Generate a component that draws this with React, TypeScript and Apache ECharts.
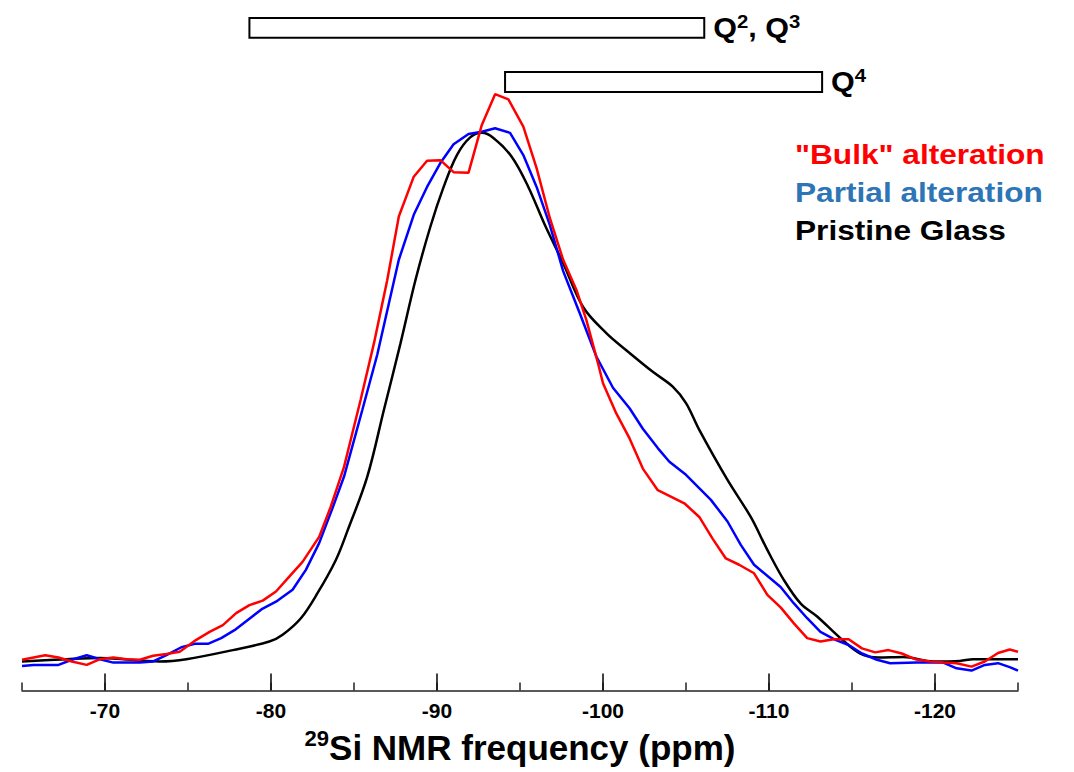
import React, { useEffect, useRef } from "react";
import * as echarts from "echarts";

// ---- data (ppm, relative intensity) ----
const bulkAlteration: [number, number][] = [
  [-65.0, 0.4], [-66.4, 1.2], [-67.2, 0.8], [-68.0, 0.1], [-68.9, -0.5], [-69.7, 0.5], [-70.5, 0.8],
  [-71.3, 0.5], [-72.1, 0.4], [-72.9, 1.1], [-73.7, 1.4], [-74.5, 1.8], [-75.5, 3.9], [-76.3, 5.3],
  [-77.1, 6.5], [-77.9, 8.6], [-78.7, 10.0], [-79.5, 10.8], [-80.3, 12.4], [-81.1, 15.0], [-81.9, 17.6],
  [-82.9, 22.0], [-83.6, 27.3], [-84.4, 34.3], [-85.4, 46.1], [-86.2, 56.0], [-87.0, 67.1], [-87.7, 78.3],
  [-88.6, 85.3], [-89.4, 88.1], [-90.2, 88.2], [-91.0, 86.1], [-91.9, 86.0], [-92.7, 94.4], [-93.5, 99.8],
  [-94.3, 98.9], [-95.2, 94.1], [-96.0, 86.8], [-96.8, 78.0], [-97.6, 70.7], [-98.4, 65.4], [-99.0, 60.1],
  [-99.7, 52.5], [-100.0, 49.0], [-100.8, 43.7], [-101.6, 39.3], [-102.4, 34.0], [-103.3, 30.2],
  [-104.9, 27.9], [-105.8, 25.5], [-106.6, 21.7], [-107.4, 18.2], [-108.2, 17.1], [-109.1, 15.6],
  [-109.9, 11.8], [-110.7, 9.6], [-111.5, 6.8], [-112.3, 4.2], [-113.1, 3.6], [-113.9, 4.0], [-114.8, 4.0],
  [-115.6, 2.4], [-116.4, 1.7], [-117.2, 2.1], [-118.0, 1.5], [-118.8, 0.5], [-119.7, 0.1], [-120.5, -0.1],
  [-121.3, -0.2], [-122.2, -0.8], [-123.0, 0.1], [-123.8, 1.6], [-124.5, 2.2], [-125.0, 1.8],
];

const partialAlteration: [number, number][] = [
  [-65.0, -0.7], [-65.7, -0.5], [-67.2, -0.5], [-68.0, 0.4], [-68.9, 1.2], [-69.7, 0.5], [-70.5, -0.1],
  [-72.1, -0.1], [-72.9, 0.1], [-73.7, 1.2], [-74.6, 2.6], [-75.4, 3.2], [-76.2, 3.2], [-77.0, 4.2],
  [-77.8, 5.6], [-78.6, 7.4], [-79.5, 9.4], [-80.3, 10.6], [-81.3, 12.7], [-82.1, 16.2], [-82.9, 20.9],
  [-83.7, 27.0], [-84.4, 32.6], [-85.5, 44.3], [-86.4, 54.0], [-87.1, 63.0], [-87.7, 70.7], [-88.6, 78.6],
  [-89.4, 83.5], [-90.2, 87.7], [-91.0, 91.0], [-91.9, 92.8], [-92.7, 93.2], [-93.5, 93.8], [-94.4, 93.0],
  [-95.2, 89.1], [-96.0, 83.5], [-96.8, 76.8], [-97.6, 68.7], [-98.6, 61.3], [-99.6, 53.7], [-100.6, 48.2],
  [-101.6, 44.6], [-102.4, 41.0], [-103.3, 37.6], [-104.0, 35.2], [-105.0, 32.9], [-106.5, 28.5],
  [-107.5, 24.7], [-108.3, 20.6], [-109.1, 17.1], [-110.7, 13.2], [-111.5, 10.3], [-112.3, 7.7],
  [-113.1, 5.3], [-114.0, 3.9], [-114.8, 3.0], [-115.6, 1.5], [-116.5, 0.4], [-117.3, -0.2], [-118.9, -0.1],
  [-120.5, -0.1], [-121.3, -1.1], [-122.2, -1.5], [-123.0, -0.5], [-123.8, -0.2], [-124.5, -0.9], [-125.0, -1.5],
];

const pristineGlass: [number, number][] = [
  [-65.0, 0.1], [-67.7, 0.5], [-69.7, 0.7], [-73.3, 0.1], [-74.9, 0.5], [-77.7, 2.1], [-79.9, 3.6],
  [-80.7, 4.8], [-81.8, 7.7], [-82.8, 12.1], [-83.9, 17.9], [-84.6, 23.0], [-85.8, 32.6], [-86.8, 44.3],
  [-87.8, 56.0], [-88.7, 67.1], [-89.6, 76.5], [-90.4, 83.5], [-91.2, 89.1], [-92.0, 92.2], [-92.7, 93.0],
  [-93.4, 92.1], [-94.5, 88.8], [-95.5, 83.5], [-96.5, 76.8], [-97.6, 70.1], [-98.8, 62.4], [-100.2, 57.8],
  [-101.4, 54.8], [-103.0, 51.0], [-104.2, 48.4], [-105.0, 45.5], [-105.8, 40.8], [-107.5, 32.0],
  [-108.9, 25.5], [-109.9, 19.7], [-110.9, 14.4], [-111.9, 10.3], [-112.9, 8.0], [-114.3, 4.2],
  [-115.5, 1.5], [-116.6, 0.8], [-118.1, 0.9], [-119.9, 0.1], [-121.5, 0.2], [-122.3, 0.5], [-125.0, 0.5],
];

// Q-species ranges (ppm) drawn as boxes above the spectra
const bandLabels = ["{q|Q}{s|2}{q|, Q}{s|3}", "{q|Q}{s|4}"];
const bandStart = [-78.7, -94.1];
const bandEnd = [-106.1, -113.2];
const bandUpper = [113.2, 103.7];
const bandLower = [109.7, 100.2];

// labelled (major) ticks; minor ticks every 5 ppm come from the axis interval
const majorTicks = [-120, -110, -100, -90, -80, -70];
const legendNames = ['"Bulk" alteration', "Partial alteration", "Pristine Glass"];
const legendColors = ["#ff0000", "#2e75b6", "#000000"];

const FONT = "'Liberation Sans', Arial, Helvetica, sans-serif";
const Y_MIN = -5;
const Y_MAX = 116;

export default function App() {
  const ref = useRef<HTMLDivElement>(null);

  useEffect(() => {
    if (!ref.current) return;
    const chart = echarts.init(ref.current, null, { renderer: "svg" });

    const axisColor = "#222";
    const option: any = {
      animation: false,
      backgroundColor: "#fff",
      grid: {
        left: 22,
        right: 56,
        top: 2,
        bottom: 81.5,
        containLabel: false,
        outerBoundsMode: "none",
      },
      xAxis: {
        type: "value",
        min: -125,
        max: -65,
        interval: 5,
        inverse: true,
        position: "bottom",
        axisLine: { show: true, onZero: false, lineStyle: { color: axisColor, width: 1.5 } },
        axisTick: { show: true, inside: true, length: 8, lineStyle: { color: axisColor, width: 1.5 } },
        axisLabel: {
          show: true,
          customValues: majorTicks,
          margin: 9,
          fontSize: 21,
          fontWeight: "bold",
          fontFamily: FONT,
          color: "#000",
          formatter: (v: number) => (v % 10 === 0 ? String(v) : ""),
        },
        splitLine: { show: false },
        name: "{sup|29}{main|Si NMR frequency (ppm)}",
        nameLocation: "middle",
        nameGap: 37,
        nameTextStyle: {
          rich: {
            sup: { fontSize: 22, fontWeight: "bold", fontFamily: FONT, color: "#000", verticalAlign: "top", lineHeight: 22 },
            main: { fontSize: 35, fontWeight: "bold", fontFamily: FONT, color: "#000", lineHeight: 40 },
          },
        },
      },
      yAxis: {
        type: "value",
        min: Y_MIN,
        max: Y_MAX,
        show: false,
        splitLine: { show: false },
      },
      series: [
        {
          type: "custom",
          name: "major ticks",
          coordinateSystem: "cartesian2d",
          clip: false,
          silent: true,
          z: 10,
          encode: { x: 0, y: 1 },
          data: majorTicks.map((v) => [v, Y_MIN]),
          renderItem: (params: any, api: any) => {
            const p = api.coord([api.value(0), api.value(1)]);
            return {
              type: "line",
              z2: 10,
              shape: { x1: p[0], y1: p[1], x2: p[0], y2: p[1] - 17 },
              style: { stroke: "#111", lineWidth: 1.6, fill: null },
            };
          },
        },
        {
          type: "custom",
          name: "Q ranges",
          coordinateSystem: "cartesian2d",
          clip: false,
          silent: true,
          z: 5,
          data: bandStart.map((s, i) => [s, bandEnd[i], bandUpper[i], bandLower[i]]),
          renderItem: (params: any, api: any) => {
            const i = params.dataIndex;
            const a = api.coord([api.value(0), api.value(2)]);
            const b = api.coord([api.value(1), api.value(3)]);
            const x = Math.min(a[0], b[0]);
            const w = Math.abs(b[0] - a[0]);
            const y = Math.min(a[1], b[1]);
            const h = Math.abs(b[1] - a[1]);
            return {
              type: "group",
              children: [
                {
                  type: "rect",
                  shape: { x, y, width: w, height: h },
                  style: { fill: "#fff", stroke: "#000", lineWidth: 2 },
                },
                {
                  type: "text",
                  x: x + w + 9,
                  y: y + h / 2,
                  scaleX: 1.13,
                  style: {
                    text: bandLabels[i],
                    align: "left",
                    verticalAlign: "middle",
                    fill: "#000",
                    rich: {
                      q: { fontSize: 27, fontWeight: "bold", fontFamily: FONT, fill: "#000", lineHeight: 30 },
                      s: { fontSize: 18, fontWeight: "bold", fontFamily: FONT, fill: "#000", verticalAlign: "top", lineHeight: 18 },
                    },
                  },
                },
              ],
            };
          },
        },
        {
          type: "line",
          name: legendNames[2],
          data: pristineGlass,
          showSymbol: false,
          symbol: "none",
          smooth: 0.35,
          lineStyle: { color: "#000", width: 2.5 },
          z: 2,
        },
        {
          type: "line",
          name: legendNames[1],
          data: partialAlteration,
          showSymbol: false,
          symbol: "none",
          lineStyle: { color: "#0000ff", width: 2.5 },
          z: 3,
        },
        {
          type: "line",
          name: legendNames[0],
          data: bulkAlteration,
          showSymbol: false,
          symbol: "none",
          lineStyle: { color: "#ff0000", width: 2.5 },
          z: 4,
        },
      ],
      graphic: legendNames.map((n, i) => ({
        type: "text",
        x: 795,
        y: 154 + i * 38,
        scaleX: 1.13,
        style: {
          text: n,
          fill: legendColors[i],
          fontSize: 28,
          fontWeight: "bold",
          fontFamily: FONT,
          align: "left",
          verticalAlign: "middle",
        },
      })),
    };

    chart.setOption(option);
    return () => chart.dispose();
  }, []);

  return (
    <div
      ref={ref}
      style={{ position: "fixed", left: 0, top: 0, width: 1074, height: 772, background: "#fff" }}
    />
  );
}
